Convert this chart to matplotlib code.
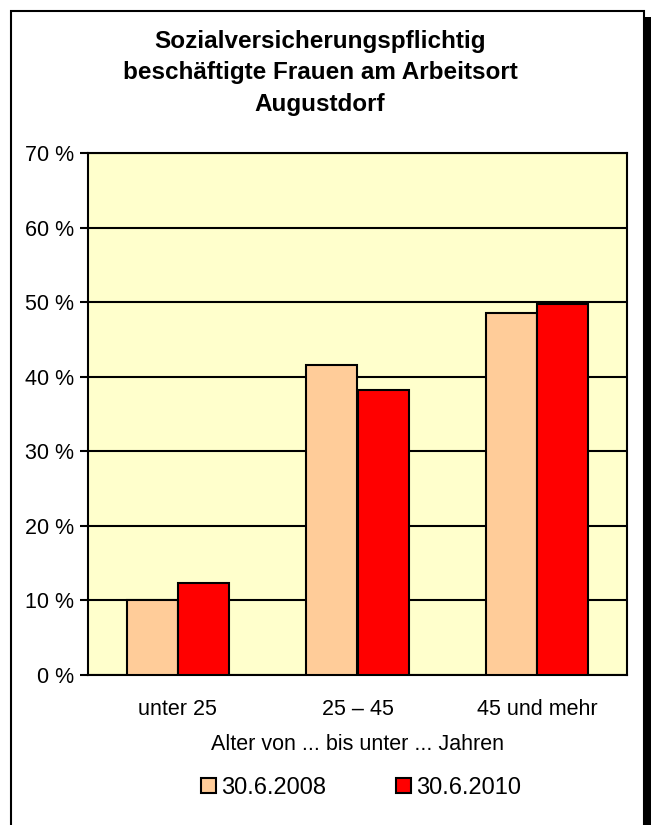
import matplotlib.pyplot as plt
import numpy as np
from matplotlib.patches import Rectangle

plt.rcParams['font.family'] = ['Liberation Sans', 'DejaVu Sans']

categories = ["unter 25", "25 – 45", "45 und mehr"]
series_names = ["30.6.2008", "30.6.2010"]
vals_2008 = [10.1, 41.6, 48.5]
vals_2010 = [12.3, 38.2, 49.7]
colors = ["#ffcc99", "#ff0000"]

W, H = 651, 825
fig = plt.figure(figsize=(W / 100, H / 100), dpi=100)
fig.patch.set_facecolor("white")

# frame with shadow on the right
fig.add_artist(Rectangle((11 / W, -0.01), (644 - 11) / W, (H - 11) / H + 0.01,
                         transform=fig.transFigure, fill=False, edgecolor="black", lw=1.5))
fig.add_artist(Rectangle((644 / W, -0.01), 7 / W, (H - 17) / H + 0.01,
                         transform=fig.transFigure, facecolor="black", edgecolor="none"))

ax = fig.add_axes([88 / W, 1 - 675 / H, (627 - 88) / W, (675 - 153) / H])
ax.set_facecolor("#ffffcc")

x = np.arange(len(categories))
bw = 0.285
ax.bar(x - bw / 2, vals_2008, bw, color=colors[0], edgecolor="black", lw=1.5,
       label=series_names[0], zorder=3)
ax.bar(x + bw / 2, vals_2010, bw, color=colors[1], edgecolor="black", lw=1.5,
       label=series_names[1], zorder=3)

ax.set_xlim(-0.5, 2.5)
ax.set_ylim(0, 70)
ax.set_yticks(range(0, 71, 10))
ax.set_yticklabels([f"{v} %" for v in range(0, 71, 10)], fontsize=15.5)
ax.yaxis.grid(True, color="black", lw=1.5, zorder=1)
ax.set_xticks(x)
ax.set_xticklabels(categories, fontsize=15.5)
ax.tick_params(axis="x", length=0, pad=17)
ax.tick_params(axis="y", length=6, width=1.5, pad=4)
for s in ax.spines.values():
    s.set_linewidth(1.5)

ax.set_xlabel("Alter von ... bis unter ... Jahren", fontsize=15.5, labelpad=10)

fig.text(320 / W, 1 - 73 / H,
         "Sozialversicherungspflichtig\nbeschäftigte Frauen am Arbeitsort\nAugustdorf",
         ha="center", va="center", fontsize=17.5, fontweight="bold", linespacing=1.45)

fig.legend(loc="center", bbox_to_anchor=(361 / W, 1 - 788 / H), ncol=2, frameon=False,
           fontsize=17, handlelength=0.65, handleheight=0.6, handletextpad=0.2,
           columnspacing=2.95)

fig.savefig("out.png", dpi=100)
